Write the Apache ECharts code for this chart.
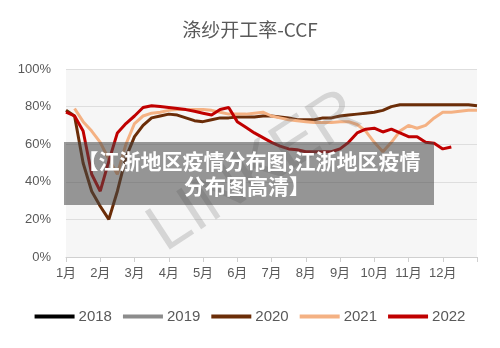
<!DOCTYPE html>
<html>
<head>
<meta charset="utf-8">
<script src="https://cdn.jsdelivr.net/npm/echarts@6/dist/echarts.min.js"></script>
<style>
html,body{margin:0;padding:0;background:#fff;}
#c{width:500px;height:348px;}
</style>
</head>
<body>
<div id="c"></div>
<script>
// Tick labels (month boundaries; 4 weekly points per month)
const monthLabels = ['1月','2月','3月','4月','5月','6月','7月','8月','9月','10月','11月','12月'];
const yTicks = [0, 20, 40, 60, 80, 100];
const seriesNames = ['2018','2019','2020','2021','2022'];

// Series values (%), one value per week-slot
const v2018 = [];
const v2019 = [];
const v2020 = [78,75,50,35,27,20,35,53,64,70,74,75,76,75.5,74,72.5,72,73,74,74,74.5,74.5,74.5,75,75,74.5,74,73,73,73,74,74,75,75.5,76,76.5,77,78,80,81,81,81,81,81,81,81,81,81,80.5];
const v2021 = [null,79,72,67,61,52,44,60,71,75,76.5,77,78,78.5,78.5,78.5,78.5,78,77,76,76,76,76.5,77,75,74,73,72.5,72,71.5,71.5,71.5,72,72,70.5,67,61,56,61,67,70,68.5,70,74,77,77,77.5,78,78];
const v2022 = [77,75,67,44,35,51,66,71,75,79.5,80.5,80,79.5,79,78.4,77.5,76.5,75.5,78.5,79.5,72,69,66,63.5,61,59,57.5,57,56,56,56,56,57.5,61,66,68,68.5,66.5,68,66,64,64,61,60.5,57.5,58.5,null,null,null];

const slotsPerMonth = 4;
const categories = [];
for (let m = 0; m < monthLabels.length; m++) {
  for (let k = 0; k < slotsPerMonth; k++) categories.push(k === 0 ? monthLabels[m] : monthLabels[m] + '-' + (k + 1));
}
categories.push('');

const colors = ['#000000', '#8c8c8c', '#6b2d08', '#f4b183', '#c00000'];
const values = [v2018, v2019, v2020, v2021, v2022];

const chart = echarts.init(document.getElementById('c'), null, {renderer: 'canvas'});
const font = '"Noto Sans CJK SC", "Liberation Sans", sans-serif';

chart.setOption({
  backgroundColor: '#ffffff',
  animation: false,
  title: {
    text: '涤纱开工率-CCF',
    left: 'center',
    top: 15,
    textStyle: {fontSize: 19, fontWeight: 'normal', color: '#595959', fontFamily: font}
  },
  legend: {
    bottom: 19,
    left: 'center',
    icon: 'rect',
    itemWidth: 40,
    itemHeight: 4,
    itemGap: 11,
    textStyle: {fontSize: 15, color: '#595959', fontFamily: '"Liberation Sans", sans-serif', padding: [0, 0, 0, -1]},
    data: seriesNames
  },
  grid: {
    left: 66, right: 23, top: 69, bottom: 91,
    show: true, backgroundColor: '#f6f6f6', borderWidth: 0
  },
  xAxis: {
    type: 'category',
    data: categories,
    boundaryGap: false,
    axisLine: {show: true, lineStyle: {color: '#d0d0d0', width: 1}},
    axisTick: {show: true, interval: slotsPerMonth - 1, length: 5, lineStyle: {color: '#d0d0d0'}},
    axisLabel: {
      interval: slotsPerMonth - 1,
      color: '#595959', fontSize: 13, margin: 10,
      fontFamily: '"Liberation Sans", "Noto Sans CJK SC", sans-serif',
      formatter: function (v, idx) { return idx % slotsPerMonth === 0 ? (monthLabels[idx / slotsPerMonth] || '') : ''; }
    },
    splitLine: {show: false}
  },
  yAxis: {
    type: 'value',
    min: yTicks[0], max: yTicks[yTicks.length - 1], interval: yTicks[1] - yTicks[0],
    axisLine: {show: false},
    axisTick: {show: false},
    axisLabel: {color: '#595959', fontSize: 13, margin: 15, formatter: '{value}%',
      fontFamily: '"Liberation Sans", sans-serif'},
    splitLine: {lineStyle: {color: '#dedede', width: 1}}
  },
  series: seriesNames.map(function (name, i) {
    return {
      name: name,
      type: 'line',
      data: values[i],
      symbol: 'none',
      connectNulls: false,
      lineStyle: {width: 3, color: colors[i]},
      itemStyle: {color: colors[i]},
      z: 2 + i
    };
  }),
  graphic: [
    {
      type: 'text', z: 100, x: 255, y: 172, rotation: 0.58,
      style: {text: 'LINKER', fontSize: 66, fontFamily: '"Liberation Sans", sans-serif',
        fill: 'rgba(110,110,110,0.24)', textAlign: 'center', textVerticalAlign: 'middle'}
    },
    {
      type: 'rect', z: 101, shape: {x: 64, y: 142, width: 370, height: 63},
      style: {fill: 'rgba(70,70,70,0.55)'}
    },
    {
      type: 'text', z: 102, x: 249, y: 161,
      style: {text: '【江浙地区疫情分布图,江浙地区疫情', fontSize: 21, fontWeight: 'bold',
        fontFamily: font, fill: '#ffffff', textAlign: 'center', textVerticalAlign: 'middle'}
    },
    {
      type: 'text', z: 102, x: 247, y: 186,
      style: {text: '分布图高清】', fontSize: 21, fontWeight: 'bold',
        fontFamily: font, fill: '#ffffff', textAlign: 'center', textVerticalAlign: 'middle'}
    }
  ]
});
</script>
</body>
</html>
